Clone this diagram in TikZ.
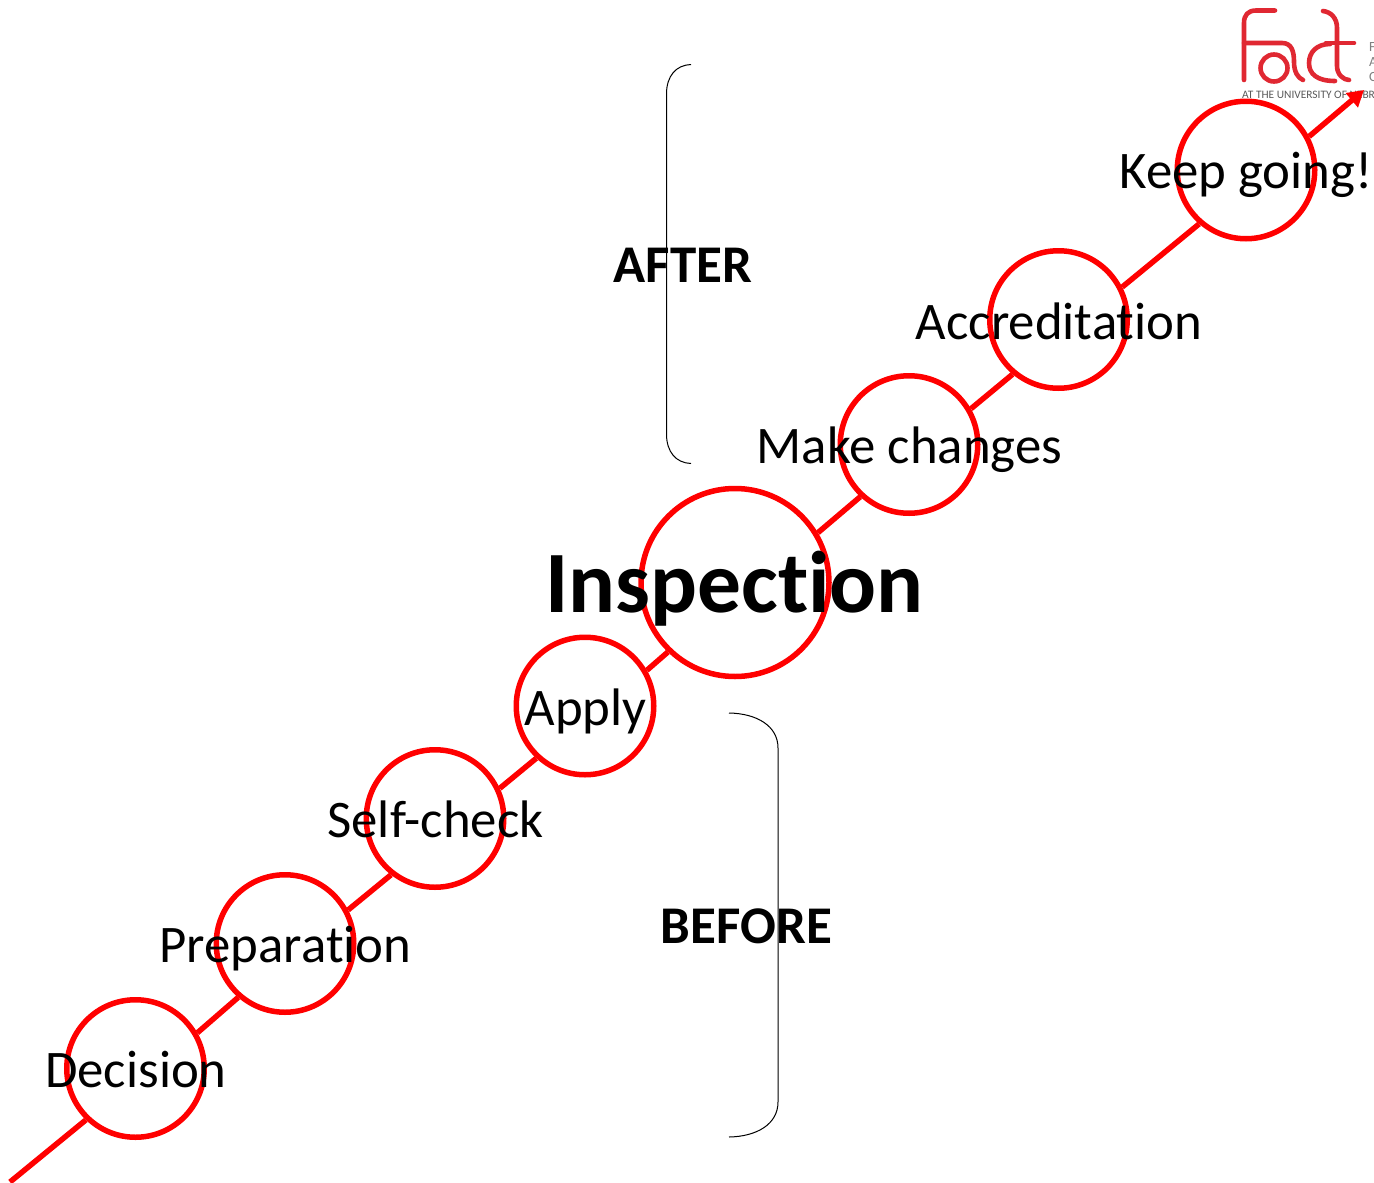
\documentclass[tikz,border=0pt]{standalone}
\usepackage{fontspec}
\setmainfont{Carlito}[Ligatures=NoCommon]
\usetikzlibrary{arrows.meta}
\definecolor{factred}{RGB}{224,40,50}
\tikzset{
  x=1pt,y=-1pt,
  stepcirc/.style={circle,draw=red,line width=5.5pt,minimum size=137.5pt,inner sep=0pt},
  bigcirc/.style={circle,draw=red,line width=5.5pt,minimum size=188pt,inner sep=0pt},
  steptext/.style={font=\fontsize{52.8}{56}\selectfont,text=black,inner sep=0pt,anchor=base},
  bigtext/.style={font=\fontsize{87.5}{90}\selectfont\bfseries,text=black,inner sep=0pt,anchor=base},
  sidetext/.style={font=\fontsize{53}{56}\selectfont\bfseries,text=black,inner sep=0pt,anchor=base},
  conn/.style={draw=red,line width=5.5pt},
  brace/.style={draw=black,line width=1pt},
  logo/.style={draw=factred,line width=4.6pt,line cap=round,line join=round}
}
\begin{document}
\begin{tikzpicture}
\useasboundingbox (0,0) rectangle (1374,1183);
% logo
\begin{scope}
\clip (1174,0) rectangle (1374,100);
\draw[logo] (1275,10.5) -- (1256,10.5) .. controls (1248,10.5) and (1244,15) .. (1244,23) -- (1244,80);
\draw[logo] (1244,43) -- (1282,43) .. controls (1292,43) and (1294,52) .. (1294,62) .. controls (1294,72) and (1298,78) .. (1303,80);
\draw[logo] (1274,68) circle (13.5);
\draw[logo] (1330,44) .. controls (1317,44) and (1309,52) .. (1309,63) .. controls (1309,74) and (1317,81) .. (1335,81);
\draw[logo] (1323,11) .. controls (1331,12) and (1337,18) .. (1337,28) -- (1337,66) .. controls (1337,75) and (1344,80) .. (1349,80);
\draw[logo] (1326,43) -- (1354,43);
\node[inner sep=0pt,anchor=west,text=gray!70!black,font=\fontsize{11.4}{12}\selectfont] (logoline) at (1242,95) {AT THE UNIVERSITY OF NEBRASKA};
\node[inner sep=0pt,anchor=west,text=gray,font=\fontsize{14}{14}\selectfont] (logof) at (1369,47) {F};
\node[inner sep=0pt,anchor=west,text=gray,font=\fontsize{14}{14}\selectfont] (logoa) at (1369,62) {A};
\node[inner sep=0pt,anchor=west,text=gray,font=\fontsize{14}{14}\selectfont] (logoc) at (1369,77) {C};
\end{scope}
% circles
\node[stepcirc] (decision) at (135.5,1068.5) {};
\node[stepcirc] (preparation) at (285,943.5) {};
\node[stepcirc] (selfcheck) at (435,818.5) {};
\node[stepcirc] (apply) at (585,706) {};
\node[bigcirc] (inspection) at (735,582.5) {};
\node[stepcirc] (makechanges) at (909,444.5) {};
\node[stepcirc] (accreditation) at (1058.5,319.5) {};
\node[stepcirc] (keepgoing) at (1246,170) {};
\coordinate (start) at (10,1182);
\coordinate (finish) at (1364,90);
% connectors
\draw[conn] (start) -- (decision.226.9);
\draw[conn] (decision.30.9) -- (preparation.229.8);
\draw[conn] (preparation.28) -- (selfcheck.232.6);
\draw[conn] (selfcheck.25.2) -- (apply.227.1);
\draw[conn] (apply.30.7) -- (inspection.226.2);
\draw[conn] (inspection.31.6) -- (makechanges.227.3);
\draw[conn] (makechanges.30.5) -- (accreditation.230.2);
\draw[conn] (accreditation.27.6) -- (keepgoing.229.1);
\draw[conn,-{Triangle[length=16pt,width=18pt]}] (keepgoing.28.7) -- (finish);
% labels
\node[steptext] (t1) at (136,1087.5) {Decision};
\node[steptext] (t2) at (285.5,962.5) {Preparation};
\node[steptext] (t3) at (435.5,837.5) {Self-check};
\node[steptext] (t4) at (585.5,725) {Apply};
\node[bigtext] (t5) at (734.5,612.5) {Inspection};
\node[steptext] (t6) at (909.5,463.5) {Make changes};
\node[steptext] (t7) at (1059,339) {Accreditation};
\node[steptext] (t8) at (1246,188.5) {Keep going!};
\node[sidetext] (after) at (683,282) {AFTER};
\node[sidetext] (before) at (746.5,943.5) {BEFORE};
% braces
\coordinate (a1) at (691,64.5);
\coordinate (a2) at (691,463.5);
\draw[brace] (a1) .. controls (676,65) and (666.5,76) .. (666.5,94) -- (666.5,434) .. controls (666.5,452) and (676,463) .. (a2);
\coordinate (b1) at (729,713);
\coordinate (b2) at (729,1137);
\draw[brace] (b1) .. controls (757,713.5) and (778,726) .. (778,748) -- (778,1102) .. controls (778,1124) and (757,1136.5) .. (b2);
\end{tikzpicture}
\end{document}
